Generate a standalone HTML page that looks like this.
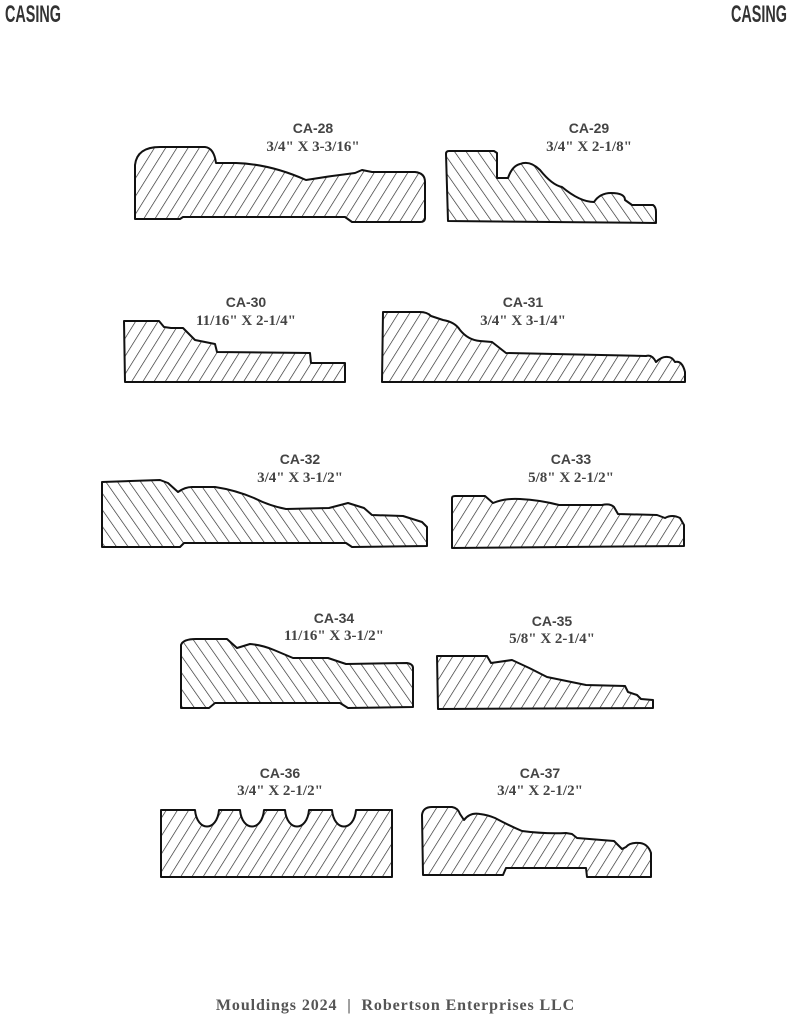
<!DOCTYPE html>
<html><head><meta charset="utf-8"><style>
html,body{margin:0;padding:0;background:#fff;}
body{width:791px;height:1024px;position:relative;overflow:hidden;}
.hd{position:absolute;top:1px;font-family:"Liberation Sans",sans-serif;font-weight:bold;font-size:24px;color:#333;transform:scaleX(0.6);transform-origin:0 0;}
svg{position:absolute;left:0;top:0;}
.lb{font-family:"Liberation Sans",sans-serif;font-weight:bold;font-size:14px;fill:#444;}
.dm{font-family:"Liberation Serif",serif;font-weight:bold;font-size:15px;fill:#444;}
.ft{position:absolute;top:997px;width:791px;text-align:center;font-family:"Liberation Serif",serif;font-weight:bold;font-size:16px;letter-spacing:0.9px;color:#555;}
</style></head><body>
<div class="hd" style="left:5px;">CASING</div>
<div class="hd" style="left:731px;">CASING</div>
<svg width="791" height="1024" viewBox="0 0 791 1024">
<defs>
<pattern id="f" width="9.5" height="9.5" patternUnits="userSpaceOnUse" patternTransform="rotate(32)"><line x1="0" y1="0" x2="0" y2="9.5" stroke="#222" stroke-width="1.3"/></pattern>
<pattern id="b" width="9.5" height="9.5" patternUnits="userSpaceOnUse" patternTransform="rotate(-35)"><line x1="0" y1="0" x2="0" y2="9.5" stroke="#222" stroke-width="1.3"/></pattern>
</defs>
<g stroke="#111" stroke-width="2" stroke-linejoin="round">
<path fill="url(#f)" d="M135,219 L135,165 Q137,147 160,147 L205,147 Q214,148 216,163 L236,163 Q270,164 306,180 Q330,176 355,173 L362,170 L372,172 L415,172 Q425,173 425,182 L425,218 Q425,222 420,222 L352,222 L345,217 L183,217 L180,219 Z"/>
<path fill="url(#b)" d="M446,154 Q446,151 449,151 L494,151 L497,153 L497,178 L508,178 Q512,166 520,164 Q530,160 540,170 Q552,185 562,187 Q580,202 594,202 Q600,193 611,193 Q625,193 625,200 L632,205 L653,205 Q656,207 656,212 L656,223 L448,221 Z"/>
<path fill="url(#f)" d="M124,321 L159,321 L164,327 L171,328 L183,328 L195,340 L215,344 L217,352 L310,353 L311,363 L345,363 L345,382 L125,382 Z"/>
<path fill="url(#f)" d="M383,312 L420,312 Q427,312 431,316 L443,320 Q455,322 460,330 Q468,340 480,341 L492,342 L506,353 L646,356 Q652,354 656,362 Q662,356 668,357 Q672,357 675,362 Q682,360 685,372 L685,382 L382,382 Z"/>
<path fill="url(#b)" d="M102,482 L160,480 L168,483 L178,492 Q185,487 192,487 L215,487 Q235,490 254,498 Q270,506 286,509 L329,508 L348,503 L364,508 L372,515 L403,516 L422,522 L427,527 L427,546 L352,547 L346,543 L184,543 L180,547 L102,547 Z"/>
<path fill="url(#f)" d="M452,498 Q452,496 455,496 L485,496 L493,503 Q505,498 520,499 Q540,500 559,505 L602,505 Q610,503 614,507 L618,514 L657,515 L665,518 Q672,514 680,518 L684,525 L684,546 L452,548 Z"/>
<path fill="url(#b)" d="M181,645 Q183,639 196,639 L227,639 L237,648 L250,644 Q262,645 274,650 L293,658 L328,658 L346,664 L407,663 Q413,664 413,668 L413,707 L348,708 L340,703 L215,703 L209,708 L181,708 Z"/>
<path fill="url(#f)" d="M437,656 L487,656 L491,663 L512,660 Q530,668 547,677 L586,685 L625,686 L628,692 L637,695 L641,699 L653,700 L653,708 L438,709 Z"/>
<path fill="url(#f)" d="M161,810 L195,810 C197,832 217,832 219,810 L240,810 C242,832 262,832 264,810 L285,810 C287,832 307,832 309,810 L332,810 C334,832 354,832 356,810 L392,810 L392,877 L161,877 Z"/>
<path fill="url(#f)" d="M422,815 Q423,807 432,807 L452,807 Q458,808 460,814 L464,820 Q470,812 480,814 Q488,815 495,818 Q510,826 522,831 Q545,834 566,833 L572,834 L577,838 L614,841 L618,845 L622,849 L626,847 Q630,842 640,843 Q648,844 651,853 L651,877 L587,877 L586,868 L506,868 L503,875 L423,875 Z"/>
</g>
<g text-anchor="middle">
<text class="lb" x="313" y="133">CA-28</text><text class="dm" x="313" y="151">3/4" X 3-3/16"</text>
<text class="lb" x="589" y="133">CA-29</text><text class="dm" x="589" y="151">3/4" X 2-1/8"</text>
<text class="lb" x="246" y="307">CA-30</text><text class="dm" x="246" y="325">11/16" X 2-1/4"</text>
<text class="lb" x="523" y="307">CA-31</text><text class="dm" x="523" y="325">3/4" X 3-1/4"</text>
<text class="lb" x="300" y="464">CA-32</text><text class="dm" x="300" y="482">3/4" X 3-1/2"</text>
<text class="lb" x="571" y="464">CA-33</text><text class="dm" x="571" y="482">5/8" X 2-1/2"</text>
<text class="lb" x="334" y="623">CA-34</text><text class="dm" x="334" y="640">11/16" X 3-1/2"</text>
<text class="lb" x="552" y="626">CA-35</text><text class="dm" x="552" y="643">5/8" X 2-1/4"</text>
<text class="lb" x="280" y="778">CA-36</text><text class="dm" x="280" y="795">3/4" X 2-1/2"</text>
<text class="lb" x="540" y="778">CA-37</text><text class="dm" x="540" y="795">3/4" X 2-1/2"</text>
</g>
</svg>
<div class="ft">Mouldings 2024 &nbsp;|&nbsp; Robertson Enterprises LLC</div>
</body></html>
